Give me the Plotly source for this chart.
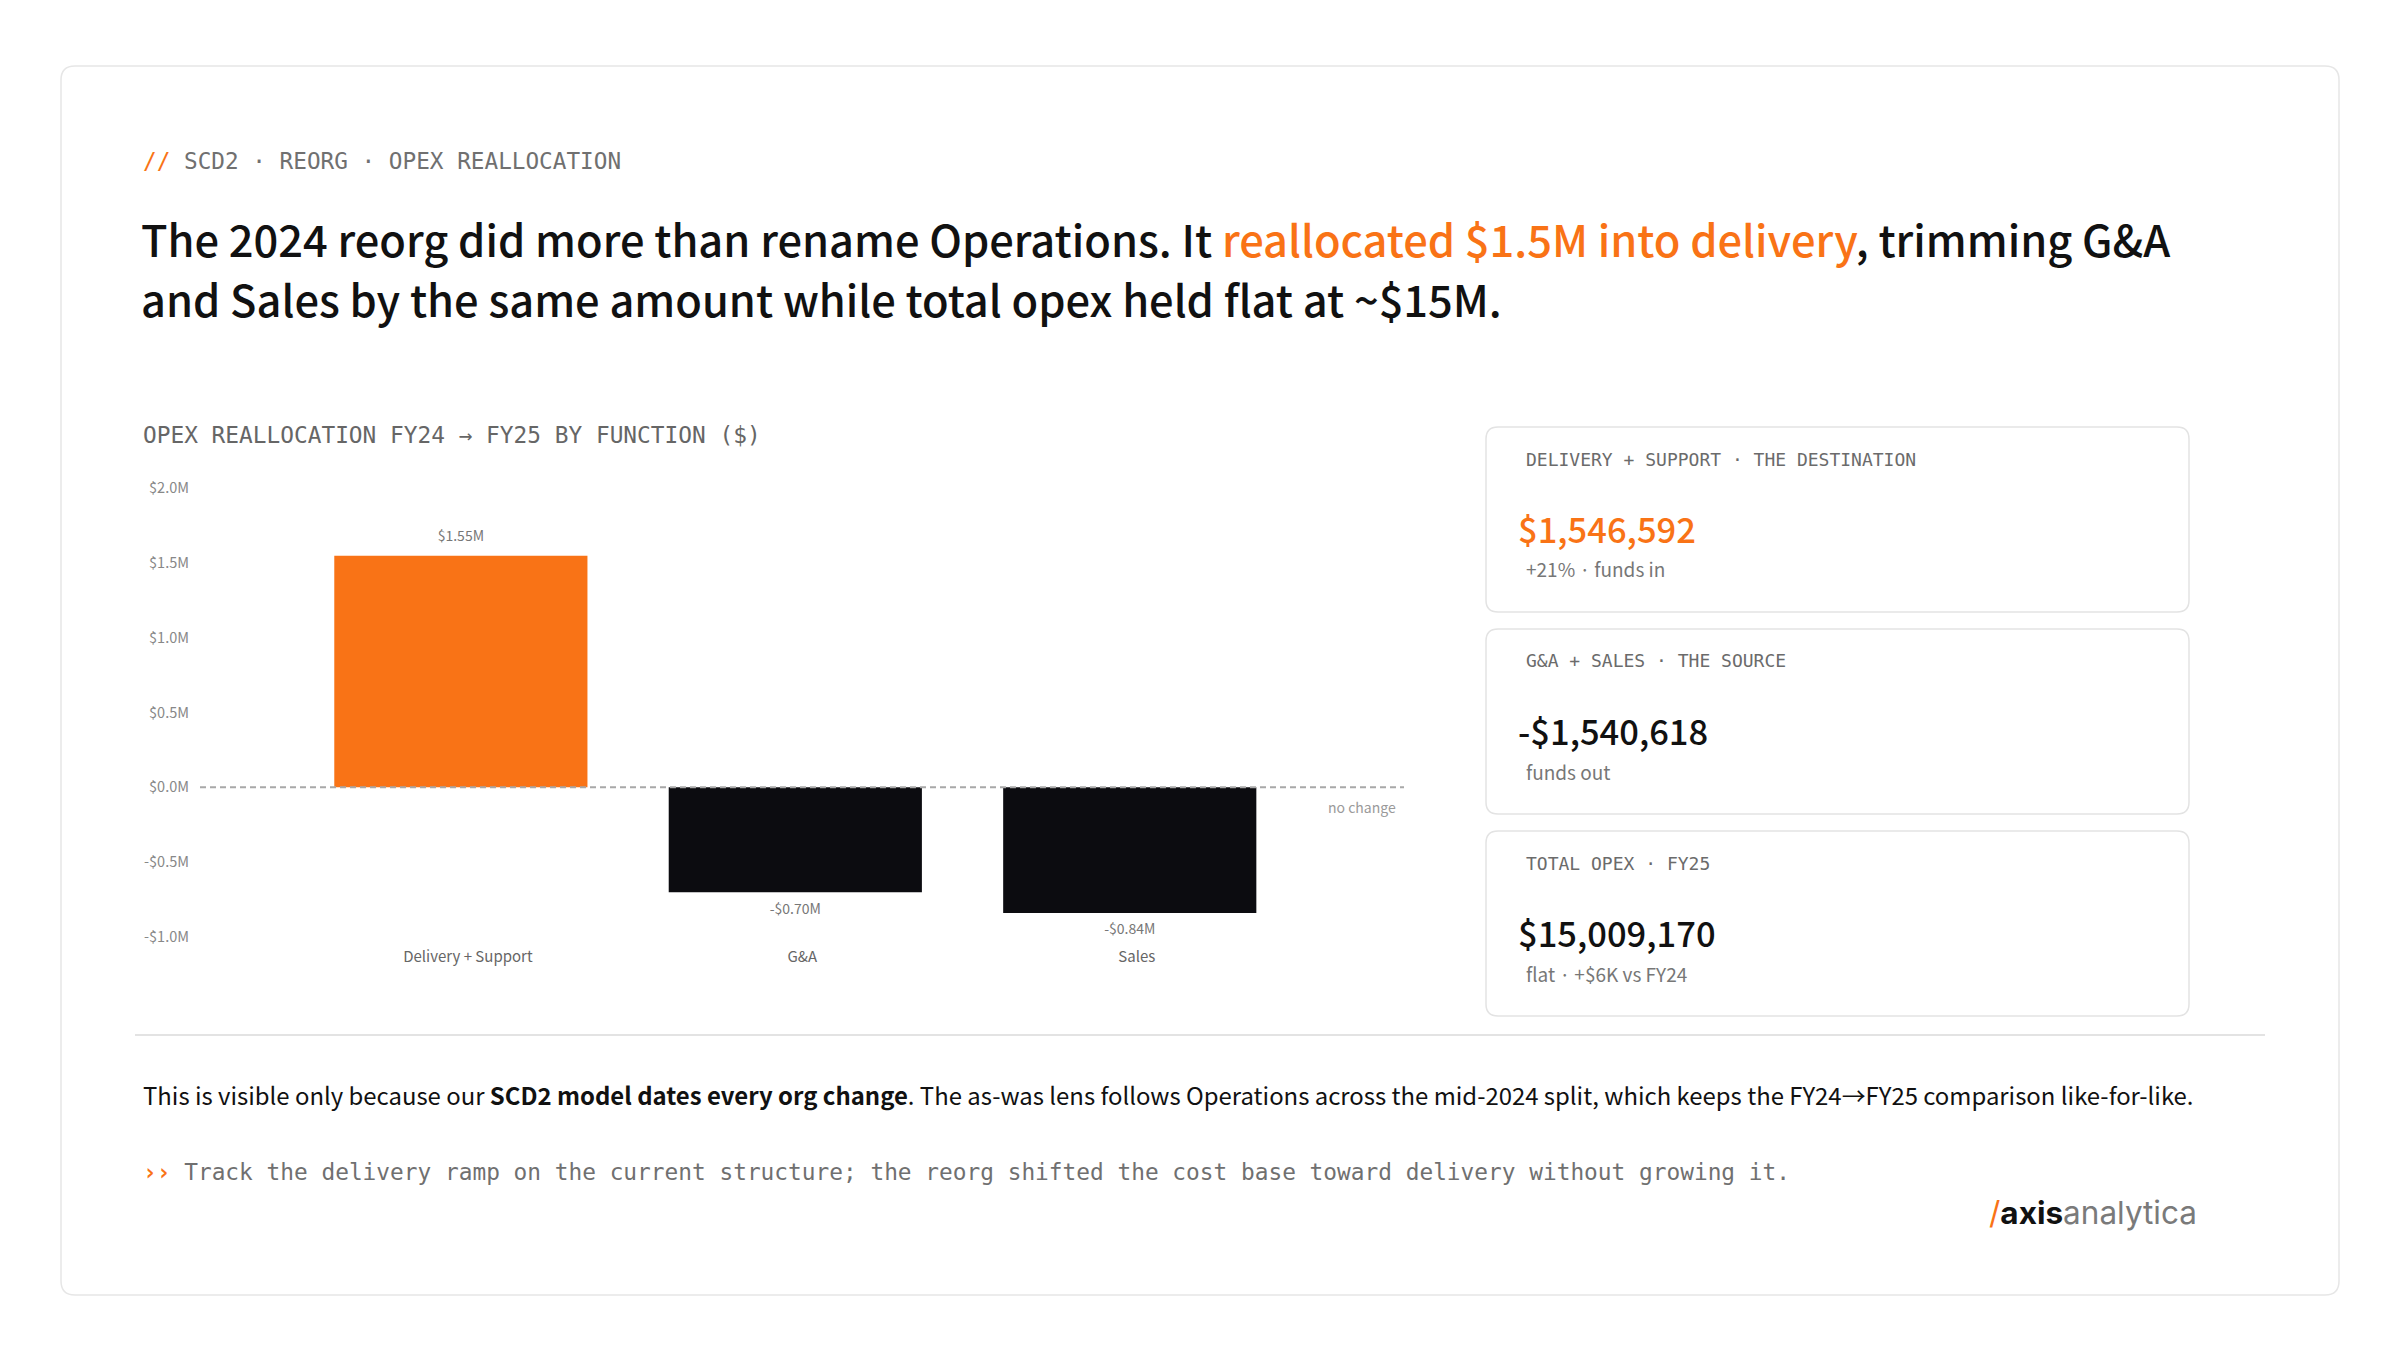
import plotly.graph_objects as go

# ---------------- data ----------------
categories = ["Delivery + Support", "G&A", "Sales"]
delta_usd = [1546592, -701245, -839373]
bar_colors = ["#F97316", "#0C0C10", "#0C0C10"]
ytick_vals = [-1.0e6, -0.5e6, 0.0, 0.5e6, 1.0e6, 1.5e6, 2.0e6]
ytick_text = ["-$1.0M", "-$0.5M", "$0.0M", "$0.5M", "$1.0M", "$1.5M", "$2.0M"]

card_labels = ["DELIVERY + SUPPORT · THE DESTINATION", "G&A + SALES · THE SOURCE", "TOTAL OPEX · FY25"]
card_values = ["$1,546,592", "-$1,540,618", "$15,009,170"]
card_subs = ["+21% · funds in", "funds out", "flat · +$6K vs FY24"]
card_value_colors = ["#F97316", "#111111", "#111111"]

# ---------------- style ----------------
W, H = 2400, 1363
ORANGE = "#F97316"
SANS = "Noto Sans CJK JP"
MONO = "DejaVu Sans Mono"
LABEL_PAD = 0.12e6


def px(x):
    return x / W


def py(y):
    return 1 - y / H


def rounded_rect(x0, y0, x1, y1, r):
    rx, ry = r / W, r / H
    X0, X1 = px(x0), px(x1)
    Y0, Y1 = py(y0), py(y1)
    return (f"M {X0 + rx},{Y0} L {X1 - rx},{Y0} Q {X1},{Y0} {X1},{Y0 - ry} "
            f"L {X1},{Y1 + ry} Q {X1},{Y1} {X1 - rx},{Y1} "
            f"L {X0 + rx},{Y1} Q {X0},{Y1} {X0},{Y1 + ry} "
            f"L {X0},{Y0 - ry} Q {X0},{Y0} {X0 + rx},{Y0} Z")


fig = go.Figure()

fig.add_trace(go.Bar(
    x=categories, y=delta_usd, marker=dict(color=bar_colors, line=dict(width=0)),
    width=0.757, hoverinfo="skip", showlegend=False,
))

label_text = [("-" if v < 0 else "") + f"${abs(v) / 1e6:.2f}M" for v in delta_usd]
label_y = [v + (LABEL_PAD if v >= 0 else -LABEL_PAD) for v in delta_usd]
fig.add_trace(go.Scatter(
    x=categories, y=label_y, mode="text", text=label_text, textposition="middle center",
    textfont=dict(family=SANS, size=14, color="#777777"), hoverinfo="skip", showlegend=False,
    cliponaxis=False,
))

shapes = []
shapes.append(dict(type="path", xref="paper", yref="paper", path=rounded_rect(61, 66, 2339, 1295, 14),
                   line=dict(color="#E6E6E6", width=1.5), fillcolor="rgba(0,0,0,0)", layer="below"))
card_tops = [427, 629, 831]
for t in card_tops:
    shapes.append(dict(type="path", xref="paper", yref="paper", path=rounded_rect(1486, t, 2189, t + 185, 12),
                       line=dict(color="#E3E3E3", width=1.5), fillcolor="rgba(0,0,0,0)", layer="below"))
shapes.append(dict(type="line", xref="paper", yref="paper", x0=px(135), x1=px(2265), y0=py(1035), y1=py(1035),
                   line=dict(color="#E3E3E3", width=2)))
shapes.append(dict(type="line", xref="x domain", yref="y", x0=0, x1=1, y0=0, y1=0,
                   line=dict(color="#A8A8A8", width=2, dash="6px,4px"), layer="above"))

ann = []


def text(x, y, s, size, color, family=SANS, anchor="left", weight=None):
    f = dict(family=family, size=size, color=color)
    if weight:
        f["weight"] = weight
    ann.append(dict(x=px(x), y=py(y), xref="paper", yref="paper", xanchor=anchor, yanchor="middle",
                    text=s, showarrow=False, font=f, align=anchor))


text(141, 161, f"<span style='color:{ORANGE}'>//</span> SCD2 · REORG · OPEX REALLOCATION", 22.7, "#707070", MONO)
text(139, 238, f"The 2024 reorg did more than rename Operations. It <span style='color:{ORANGE}'>reallocated $1.5M into delivery</span>, trimming G&A",
     43.4, "#111111", weight=500)
text(139, 298, "and Sales by the same amount while total opex held flat at ~$15M.", 43.4, "#111111", weight=500)
text(141, 435, "OPEX REALLOCATION FY24 → FY25 BY FUNCTION ($)", 22.8, "#666666", MONO)
text(1398, 807, "no change", 14, "#9A9A9A", anchor="right")

for i, t in enumerate(card_tops):
    text(1524, t + 32, card_labels[i], 18, "#6B6B6B", MONO)
    text(1516, t + 101, card_values[i], 34.5, card_value_colors[i], weight=500)
    text(1524, t + 142, card_subs[i], 19, "#777777")

text(141, 1094, "This is visible only because our <b>SCD2 model dates every org change</b>. The as-was lens follows Operations across the mid-2024 split, which keeps the FY24→FY25 comparison like-for-like.",
     23.9, "#111111")
text(141, 1172, f"<span style='color:{ORANGE}'><b>››</b></span> Track the delivery ramp on the current structure; the reorg shifted the cost base toward delivery without growing it.",
     22.8, "#707070", MONO)
text(2199, 1212, f"<span style='color:{ORANGE}'>/</span><b>axis</b><span style='color:#7A7A7A'>analytica</span>", 31.5, "#111111",
     "Inter", anchor="right")

fig.update_layout(
    width=W, height=H, margin=dict(l=0, r=0, t=0, b=0),
    paper_bgcolor="#FFFFFF", plot_bgcolor="rgba(0,0,0,0)",
    shapes=shapes, annotations=ann, bargap=0.2,
    xaxis=dict(domain=[px(200), px(1404)], range=[-0.78, 2.82], type="category",
               showgrid=False, zeroline=False, showline=False, ticks="", automargin=False,
               tickfont=dict(family=SANS, size=15, color="#666666"), ticklabelstandoff=9,
               ticklabelshift=7, fixedrange=True),
    yaxis=dict(domain=[py(937), py(488)], range=[-1.0e6, 2.0e6], tickvals=ytick_vals, ticktext=ytick_text,
               showgrid=False, zeroline=False, showline=False, ticks="", automargin=False,
               tickfont=dict(family=SANS, size=14.5, color="#888888"), ticklabelstandoff=10, fixedrange=True),
    hovermode=False,
)

fig.write_html("out.html", config={"displayModeBar": False})
